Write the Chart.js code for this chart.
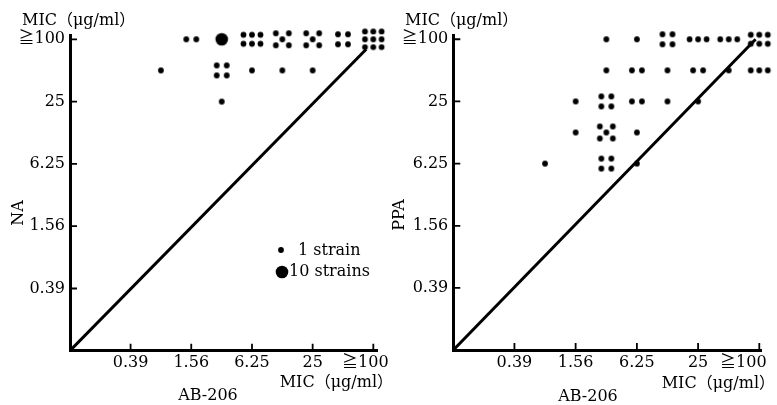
<!DOCTYPE html>
<html lang="ja">
<head>
<meta charset="UTF-8">
<title>AB-206 MIC correlation</title>
<script src="https://cdn.jsdelivr.net/npm/chart.js"></script>
<style>
  body { margin: 0; background: #fff; }
  .wrap { position: relative; width: 777px; height: 405px; }
  .wrap canvas { position: absolute; left: 0; top: 0; }
</style>
</head>
<body>
<div class="wrap">
  <canvas id="naChart" width="777" height="405"></canvas>
  <canvas id="ppaChart" width="777" height="405"></canvas>
</div>
<script>
// twofold dilution series, labelled every fourfold step (µg/ml)
const tickValues = [0.39, 1.56, 6.25, 25, 100];
const tickLabels = ['0.39', '1.56', '6.25', '25', '≧100'];
const axisMin = 100 / 1024;

// AB-206 MIC vs NA MIC, one entry per group of strains
const naAB  = [1.56, 3.13, 6.25, 12.5, 25, 50, 100, 0.78, 3.13, 6.25, 12.5, 25, 3.13];
const naMIC = [100, 100, 100, 100, 100, 100, 100, 50, 50, 50, 50, 50, 25];
const naN   = [2, 10, 6, 5, 5, 4, 9, 1, 4, 1, 1, 1, 1];

// AB-206 MIC vs PPA MIC
const ppaAB  = [3.13, 6.25, 12.5, 25, 50, 100,
                3.13, 6.25, 12.5, 25, 50, 100,
                1.56, 3.13, 6.25, 12.5, 25,
                1.56, 3.13, 6.25,
                0.78, 3.13, 6.25];
const ppaMIC = [100, 100, 100, 100, 100, 100,
                50, 50, 50, 50, 50, 50,
                25, 25, 25, 25, 25,
                12.5, 12.5, 12.5,
                6.25, 6.25, 6.25];
const ppaN   = [1, 1, 4, 3, 3, 6,
                1, 2, 1, 2, 1, 3,
                1, 4, 2, 1, 1,
                1, 5, 1,
                1, 4, 1];

// equal-MIC lines
const naDiag  = [[axisMin, axisMin], [85, 80]];
const ppaDiag = [[axisMin, axisMin], [92, 100]];

// CJK font second so ≧ and the full-width brackets come from it
const FONT = "'DejaVu Serif', 'Noto Sans CJK JP', serif";
Chart.defaults.font.family = FONT;
Chart.defaults.font.size = 16;
Chart.defaults.color = '#000';

// dot arrangements for groups of n strains; 10 strains get one large dot
const DOT_R = 2.9, BIG_R = 6.3;
const grid3 = (dx, dys) => dys.flatMap(dy => [[-dx, dy], [0, dy], [dx, dy]]);
const dotLayouts = {
  1: [[0, 0]],
  2: [[-5, 0], [5, 0]],
  3: [[-8.5, 0], [0, 0], [8.5, 0]],
  4: [[-5, -5], [5, -5], [-5, 5], [5, 5]],
  5: [[-6.5, -6], [6.5, -6], [0, 0], [-6.5, 6], [6.5, 6]],
  6: grid3(8.5, [-4.5, 4.5]),
  9: grid3(8.3, [-7.8, 0, 7.8])
};
const imgCache = {};
function clusterImage(n) {
  if (imgCache[n]) return imgCache[n];
  const c = document.createElement('canvas');
  c.width = 32; c.height = 32;
  const g = c.getContext('2d');
  g.fillStyle = '#000';
  const dots = n >= 10 ? [[0, 0, BIG_R]] : dotLayouts[n].map(([x, y]) => [x, y, DOT_R]);
  dots.forEach(([x, y, r]) => {
    g.beginPath();
    g.arc(16 + x, 16 + y, r, 0, Math.PI * 2);
    g.fill();
  });
  imgCache[n] = c;
  return c;
}

// short tick marks pointing into the plot
const insideTicks = {
  id: 'insideTicks',
  afterDraw(chart) {
    const { ctx, chartArea: a } = chart;
    const xs = chart.scales.x, ys = chart.scales.y;
    ctx.save();
    ctx.strokeStyle = '#000';
    ctx.lineWidth = 1.8;
    ctx.beginPath();
    xs.ticks.forEach((t, i) => {
      const px = xs.getPixelForTick(i);
      ctx.moveTo(px, a.bottom);
      ctx.lineTo(px, a.bottom - 7);
    });
    ys.ticks.forEach((t, i) => {
      const py = ys.getPixelForTick(i);
      ctx.moveTo(a.left, py);
      ctx.lineTo(a.left + 7, py);
    });
    ctx.stroke();
    ctx.restore();
  }
};

// free-standing captions and the strain-count key
function captions(items) {
  return {
    id: 'captions',
    afterDraw(chart) {
      const ctx = chart.ctx;
      ctx.save();
      ctx.fillStyle = '#000';
      ctx.font = '16px ' + FONT;
      ctx.textBaseline = 'middle';
      items.forEach(t => {
        if (t.dot) {
          const img = clusterImage(t.dot);
          ctx.drawImage(img, t.x - 16, t.y - 16);
          return;
        }
        ctx.save();
        ctx.translate(t.x, t.y);
        if (t.rotate) ctx.rotate(-Math.PI / 2);
        ctx.textAlign = t.align || 'left';
        ctx.fillText(t.text, 0, 0);
        ctx.restore();
      });
      ctx.restore();
    }
  };
}

function makePanel(id, xs, ys, ns, diag, box, items) {
  const points = xs.map((x, i) => ({ x, y: ys[i], n: ns[i] }));
  const tickSetup = scale => { scale.ticks = tickValues.map(value => ({ value })); };
  return new Chart(document.getElementById(id), {
    type: 'scatter',
    data: {
      datasets: [{
        data: points,
        clip: false,
        pointRadius: 4,
        pointStyle: ctx => clusterImage(ctx.raw.n)
      }, {
        data: diag.map(([x, y]) => ({ x, y })),
        showLine: true,
        pointRadius: 0,
        borderColor: '#000',
        borderWidth: 3,
        borderCapStyle: 'butt'
      }]
    },
    options: {
      responsive: false,
      animation: false,
      events: [],
      layout: { padding: { left: 0, top: box.top, right: box.right, bottom: 0 } },
      plugins: { legend: { display: false }, tooltip: { enabled: false } },
      scales: {
        x: {
          type: 'logarithmic',
          min: axisMin,
          max: box.xMax,
          afterBuildTicks: tickSetup,
          afterFit: s => { s.height = box.xAxisH; s.paddingLeft = 0; s.paddingRight = 0; },
          grid: { display: false, drawTicks: false },
          border: { display: true, color: '#000', width: 3 },
          ticks: {
            autoSkip: false,
            maxRotation: 0,
            minRotation: 0,
            padding: 3,
            callback: (v, i) => tickLabels[i] + (i === tickLabels.length - 1 ? box.lastPad : '')
          }
        },
        y: {
          type: 'logarithmic',
          min: axisMin,
          max: 110,
          afterBuildTicks: tickSetup,
          afterFit: s => { s.width = box.yAxisW; s.paddingTop = 0; s.paddingBottom = 0; },
          grid: { display: false, drawTicks: false },
          border: { display: true, color: '#000', width: 3 },
          ticks: {
            autoSkip: false,
            padding: 5,
            callback: (v, i) => tickLabels[i]
          }
        }
      }
    },
    plugins: [insideTicks, captions(items)]
  });
}

makePanel('naChart', naAB, naMIC, naN, naDiag,
  { top: 35, right: 400, xMax: 108.8, xAxisH: 54.3, yAxisW: 70, lastPad: '\u2003' },
  [
    { text: 'MIC（μg/ml）', x: 22, y: 21 },
    { text: 'NA', x: 19, y: 213, rotate: true, align: 'center' },
    { text: 'MIC（μg/ml）', x: 393, y: 383, align: 'right' },
    { text: 'AB-206', x: 208, y: 396, align: 'center' },
    { dot: 1, x: 281, y: 250 },
    { text: '1 strain', x: 298, y: 251 },
    { dot: 10, x: 282, y: 272 },
    { text: '10 strains', x: 289, y: 272 }
  ]);

makePanel('ppaChart', ppaAB, ppaMIC, ppaN, ppaDiag,
  { top: 35, right: 15.3, xMax: 105.6, xAxisH: 55, yAxisW: 453.3, lastPad: '\u2003\u2003' },
  [
    { text: 'MIC（μg/ml）', x: 405, y: 21 },
    { text: 'PPA', x: 400, y: 215, rotate: true, align: 'center' },
    { text: 'MIC（μg/ml）', x: 775, y: 384, align: 'right' },
    { text: 'AB-206', x: 588, y: 397, align: 'center' }
  ]);
</script>
</body>
</html>
